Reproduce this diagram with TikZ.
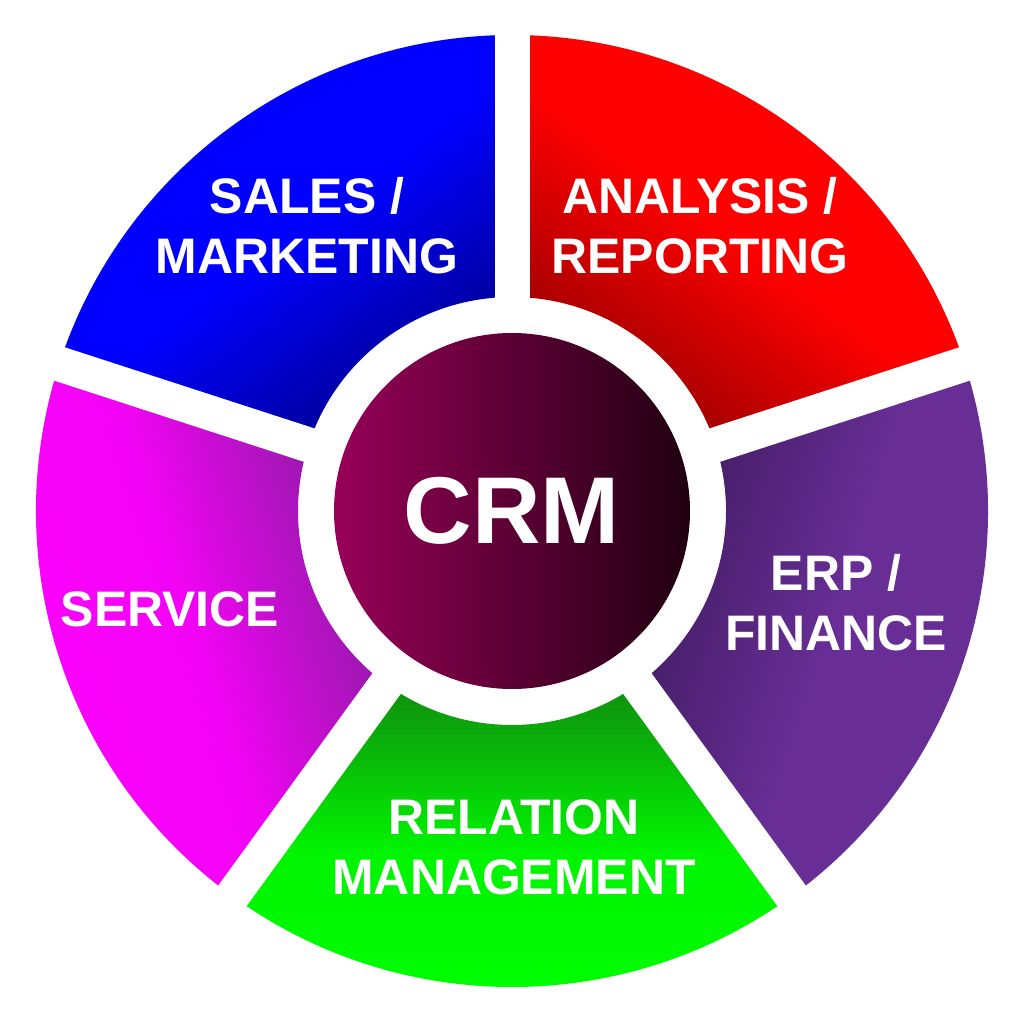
\documentclass[tikz,border=0pt]{standalone}
\usepackage{fontspec}
\setmainfont{Liberation Sans}
\usetikzlibrary{positioning}
\definecolor{azul}{RGB}{0,0,255}
\definecolor{azulos}{RGB}{0,0,140}
\definecolor{rojo}{RGB}{255,0,0}
\definecolor{rojos}{RGB}{145,0,0}
\definecolor{morado}{RGB}{104,46,150}
\definecolor{morados}{RGB}{62,26,95}
\definecolor{verde}{RGB}{0,255,0}
\definecolor{verdos}{RGB}{15,140,15}
\definecolor{fucsia}{RGB}{255,0,255}
\definecolor{fucsos}{RGB}{130,30,155}
\definecolor{vino}{RGB}{152,0,88}
\definecolor{vinos}{RGB}{32,0,16}
\tikzset{
  hueco/.style={draw=white, line width=3.5mm},
  etq/.style={text=white, align=center, inner sep=0pt, font=\bfseries\fontsize{14.2}{17.1}\selectfont},
  nucleo/.style={circle, minimum size=35.6mm, inner sep=0pt, left color=vino, right color=vinos,
    text=white, font=\bfseries\fontsize{27}{30}\selectfont},
}
\begin{document}
\begin{tikzpicture}[x=0.1mm, y=0.1mm]
  \fill[white] (0,0) rectangle (1024,1024);
  \useasboundingbox (0,0) rectangle (1024,1024);
  \begin{scope}[shift={(512,513)}]
    % sectores
    \shade[top color=rojo, bottom color=rojos, middle color=rojo, shading angle=-36]
      (18:214) arc[start angle=18, end angle=90, radius=214] -- (90:476) arc[start angle=90, end angle=18, radius=476] -- cycle;
    \shade[top color=azul, bottom color=azulos, middle color=azul, shading angle=36]
      (90:214) arc[start angle=90, end angle=162, radius=214] -- (162:476) arc[start angle=162, end angle=90, radius=476] -- cycle;
    \shade[top color=fucsia, bottom color=fucsos, middle color=fucsia!90!fucsos, shading angle=108]
      (162:214) arc[start angle=162, end angle=234, radius=214] -- (234:476) arc[start angle=234, end angle=162, radius=476] -- cycle;
    \shade[top color=verde, bottom color=verdos, middle color=verde!90!verdos, shading angle=180]
      (234:214) arc[start angle=234, end angle=306, radius=214] -- (306:476) arc[start angle=306, end angle=234, radius=476] -- cycle;
    \shade[top color=morado, bottom color=morados, middle color=morado, shading angle=-108]
      (306:214) arc[start angle=306, end angle=378, radius=214] -- (378:476) arc[start angle=378, end angle=306, radius=476] -- cycle;
    % huecos
    \coordinate (h1a) at (18:200);  \coordinate (h1b) at (18:500);
    \coordinate (h2a) at (90:200);  \coordinate (h2b) at (90:500);
    \coordinate (h3a) at (162:200); \coordinate (h3b) at (162:500);
    \coordinate (h4a) at (234:200); \coordinate (h4b) at (234:500);
    \coordinate (h5a) at (306:200); \coordinate (h5b) at (306:500);
    \draw[hueco] (h1a) -- (h1b);
    \draw[hueco] (h2a) -- (h2b);
    \draw[hueco] (h3a) -- (h3b);
    \draw[hueco] (h4a) -- (h4b);
    \draw[hueco] (h5a) -- (h5b);
  \end{scope}
  \node[nucleo] (crm) at (512,513) {CRM};
  \node[etq] (ventas) at (307,798) {SALES /\\MARKETING};
  \node[etq] (analisis) at (700,798) {ANALYSIS /\\REPORTING};
  \node[etq] (erp) at (836,421) {ERP /\\FINANCE};
  \node[etq] (servicio) at (170,415) {SERVICE};
  \node[etq] (relacion) at (514,177) {RELATION\\MANAGEMENT};
\end{tikzpicture}
\end{document}
